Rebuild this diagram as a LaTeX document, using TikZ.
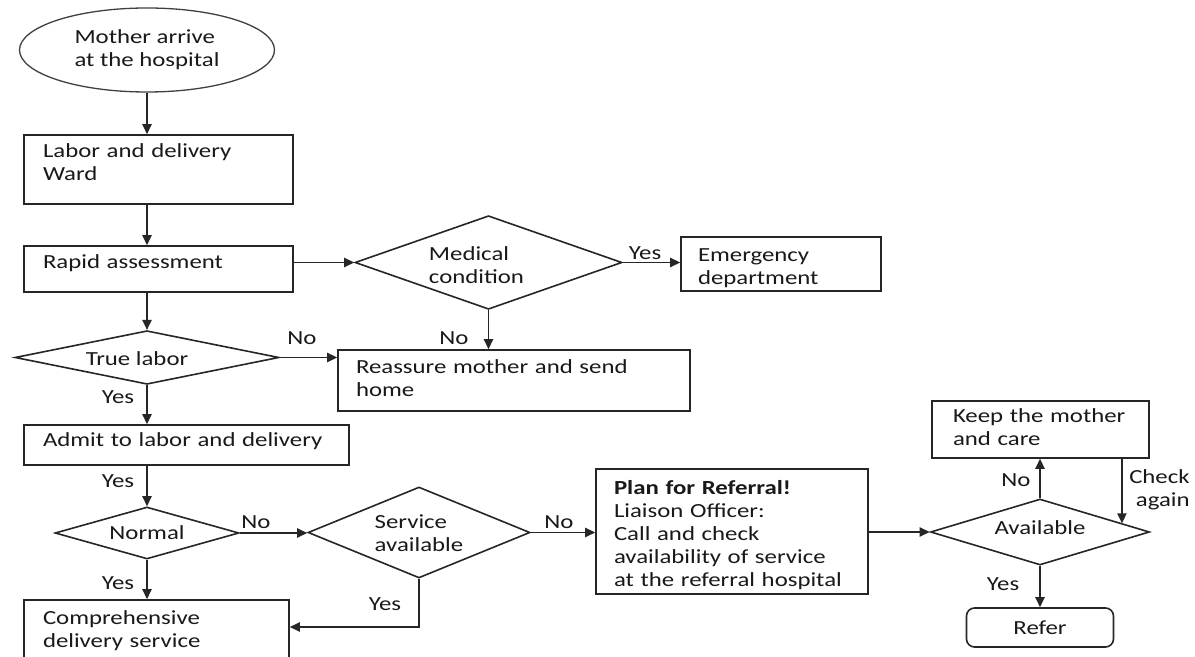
\documentclass[tikz,border=0pt]{standalone}
\usepackage{fontspec}
\setmainfont[FakeStretch=1.24]{Carlito}
\usetikzlibrary{shapes.geometric,arrows.meta,calc}
\newcommand\shtxt[3]{\raisebox{#1}[\height][\depth]{\begin{tabular}{@{}l@{}}#3\end{tabular}}\hspace*{#2}}
\begin{document}
\begin{tikzpicture}[x=0.5pt,y=-0.5pt,
  font=\fontsize{10pt}{11.5pt}\selectfont,
  every node/.style={text=black!90},
  box/.style={draw=black!85, line width=0.8pt, rectangle, align=left, inner xsep=9.5pt, inner ysep=0pt},
  dia/.style={draw=black!85, line width=0.8pt, diamond, align=left, inner sep=0pt, shape aspect=2.5},
  startnode/.style={draw=black!75, line width=0.65pt, ellipse, align=left, inner sep=0pt, minimum width=127.5pt, minimum height=42pt},
  arr/.style={draw=black!85, line width=0.8pt, -{Triangle[length=5pt,width=4.6pt]}},
  lbl/.style={inner sep=0pt, align=left}
]
\useasboundingbox (0,0) rectangle (1195,657);
\fill[white] (0,0) rectangle (1195,657);
\clip (0,0) rectangle (1195,657);

\node[startnode] (start) at (147,50) {Mother arrive\\at the hospital};
\node[box, text width=115.5pt, minimum height=34.5pt] (labor) at (158.5,169.5) {\shtxt{2.5pt}{0pt}{Labor and delivery\\Ward}};
\node[box, text width=115.5pt, minimum height=23pt] (rapid) at (158.5,269) {\shtxt{2.5pt}{0pt}{Rapid assessment}};
\node[dia, minimum width=133.5pt, minimum height=45.5pt] (medical) at (488.5,262.5) {\shtxt{-2.5pt}{12pt}{Medical\\condition}};
\node[box, inner xsep=8.5pt, text width=83pt, minimum height=27pt] (emergency) at (781,264) {\shtxt{-2pt}{0pt}{Emergency\\department}};
\node[dia, shape aspect=4, minimum width=132pt, minimum height=25.5pt] (truelabor) at (147,357.5) {\shtxt{-1.5pt}{10pt}{True labor}};
\node[box, inner xsep=9pt, text width=158pt, minimum height=30.5pt] (reassure) at (514,380.5) {\shtxt{0pt}{0pt}{Reassure mother and send\\home}};
\node[box, text width=143.5pt, minimum height=20pt] (admit) at (186.5,445) {\shtxt{1.5pt}{0pt}{Admit to labor and delivery}};
\node[dia, minimum width=92pt, minimum height=26pt] (normal) at (147,533) {Normal};
\node[dia, minimum width=111pt, minimum height=45.5pt] (service) at (419,532.5) {\shtxt{-1.5pt}{0pt}{Service\\available}};
\node[box, inner xsep=9pt, text width=118pt, minimum height=62.5pt] (plan) at (732,531.5)
  {\shtxt{-2pt}{0pt}{\textbf{Plan for Referral!}\\Liaison Officer:\\Call and check\\availability of service\\at the referral hospital}};
\node[dia, minimum width=109.5pt, minimum height=33pt] (available) at (1040,532) {\shtxt{1pt}{0pt}{Available}};
\node[box, inner xsep=10.5pt, text width=87.5pt, minimum height=28.5pt] (keep) at (1040.5,429.5) {\shtxt{0pt}{0pt}{Keep the mother\\and care}};
\node[box, rounded corners=4pt, align=center, minimum width=73.5pt, minimum height=19.5pt] (refer) at (1040,627.5) {Refer};
\node[box, text width=113.5pt, minimum height=31pt] (comp) at (156.5,631) {Comprehensive\\delivery service};

\draw[arr] (start.south) -- (labor.north -| start.south);
\draw[arr] (labor.south -| start.south) -- (rapid.north -| start.south);
\draw[arr] (rapid.east |- medical.west) -- (medical.west);
\draw[arr] (medical.east) -- (emergency.west |- medical.east);
\draw[arr] (medical.south) -- (reassure.north -| medical.south);
\draw[arr] (rapid.south -| truelabor.north) -- (truelabor.north);
\draw[arr] (truelabor.east) -- (reassure.west |- truelabor.east);
\draw[arr] (truelabor.south) -- (admit.north -| truelabor.south);
\draw[arr] (admit.south -| normal.north) -- (normal.north);
\draw[arr] (normal.east) -- (service.west |- normal.east);
\draw[arr] (normal.south) -- (comp.north -| normal.south);
\coordinate (sy) at (419,627);
\draw[arr] (service.south) -- (sy) -- (comp.east |- sy);
\draw[arr] (service.east) -- (plan.west |- service.east);
\draw[arr] (plan.east |- available.west) -- (available.west);
\draw[arr] (available.north) -- (keep.south -| available.north);
\coordinate (chk) at ($(available.north)!0.743!(available.east)$);
\draw[arr] (keep.south -| chk) -- (chk);
\draw[arr] (available.south) -- (refer.north);

\node[lbl] (yes1) at (645,253) {Yes};
\node[lbl] (no1) at (454,338) {No};
\node[lbl] (no2) at (302,338) {No};
\node[lbl] (yes2) at (118,397) {Yes};
\node[lbl] (yes3) at (118,481) {Yes};
\node[lbl] (no3) at (256,522) {No};
\node[lbl] (yes4) at (118,583) {Yes};
\node[lbl] (yes5) at (385,604) {Yes};
\node[lbl] (no4) at (559,522) {No};
\node[lbl] (no5) at (1016,480) {No};
\node[lbl, align=right, anchor=east] (check) at (1190,490) {Check\\again};
\node[lbl] (yes6) at (1003,584) {Yes};
\end{tikzpicture}
\end{document}
